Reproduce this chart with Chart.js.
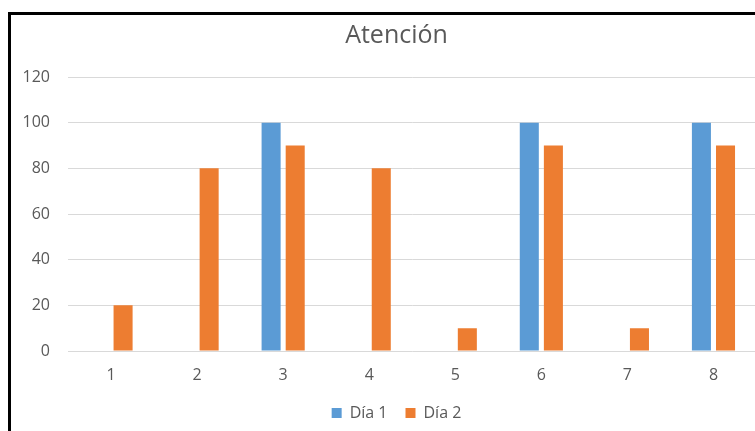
<!DOCTYPE html>
<html>
<head>
<meta charset="utf-8">
<script src="https://cdn.jsdelivr.net/npm/chart.js@4/dist/chart.umd.min.js"></script>
<style>
  html, body { margin: 0; padding: 0; background: #fff; overflow: hidden; }
  body { width: 755px; height: 431px; position: relative; }
  #frame {
    position: absolute; left: 8px; top: 12px;
    border-left: 3px solid #000; border-top: 3px solid #000;
    width: 770px; height: 416px;
  }
  #chart { display: block; }
</style>
</head>
<body>
<div id="frame"><canvas id="chart" width="770" height="416"></canvas></div>
<script>
// datos de la gráfica
const categorias = ['1', '2', '3', '4', '5', '6', '7', '8'];
const dia1 = [0, 0, 100, 0, 0, 100, 0, 100];
const dia2 = [20, 80, 90, 80, 10, 90, 10, 90];
const yMax = 120;
const yPaso = 20;

const gris = '#595959';
const fuente = { family: 'Open Sans', size: 16 };

new Chart(document.getElementById('chart').getContext('2d'), {
  type: 'bar',
  data: {
    labels: categorias,
    datasets: [
      { label: 'Día 1', data: dia1, backgroundColor: '#5B9BD5', borderWidth: 0 },
      { label: 'Día 2', data: dia2, backgroundColor: '#ED7D31', borderWidth: 0 }
    ]
  },
  options: {
    responsive: false,
    animation: false,
    devicePixelRatio: 1,
    categoryPercentage: 0.56,
    barPercentage: 0.79,
    layout: { padding: { left: 11, right: 10, top: 0, bottom: 0 } },
    plugins: {
      tooltip: { enabled: false },
      title: {
        display: true,
        text: 'Atención',
        color: gris,
        font: { family: 'Open Sans', size: 25, weight: 'normal' },
        padding: { top: 6, bottom: 26 }
      },
      legend: {
        position: 'bottom',
        labels: { color: gris, font: fuente, boxWidth: 10, boxHeight: 10, padding: 18 }
      }
    },
    scales: {
      x: {
        grid: { display: false, drawTicks: false },
        border: { display: false },
        ticks: { color: gris, font: fuente, padding: 15 },
        afterFit: (scale) => { scale.height = 36; }
      },
      y: {
        min: 0,
        max: yMax,
        grid: { color: '#D9D9D9', lineWidth: 1, drawTicks: false },
        border: { display: false },
        ticks: { stepSize: yPaso, color: gris, font: fuente, padding: 18 },
        afterFit: (scale) => { scale.width = 46; }
      },
      // eje vacío a la derecha: solo reserva espacio para que título y leyenda queden centrados
      margenDerecho: {
        type: 'linear',
        position: 'right',
        grid: { display: false, drawTicks: false },
        border: { display: false },
        ticks: { display: false },
        afterFit: (scale) => { scale.width = 14.5; }
      }
    }
  }
});
</script>
</body>
</html>
